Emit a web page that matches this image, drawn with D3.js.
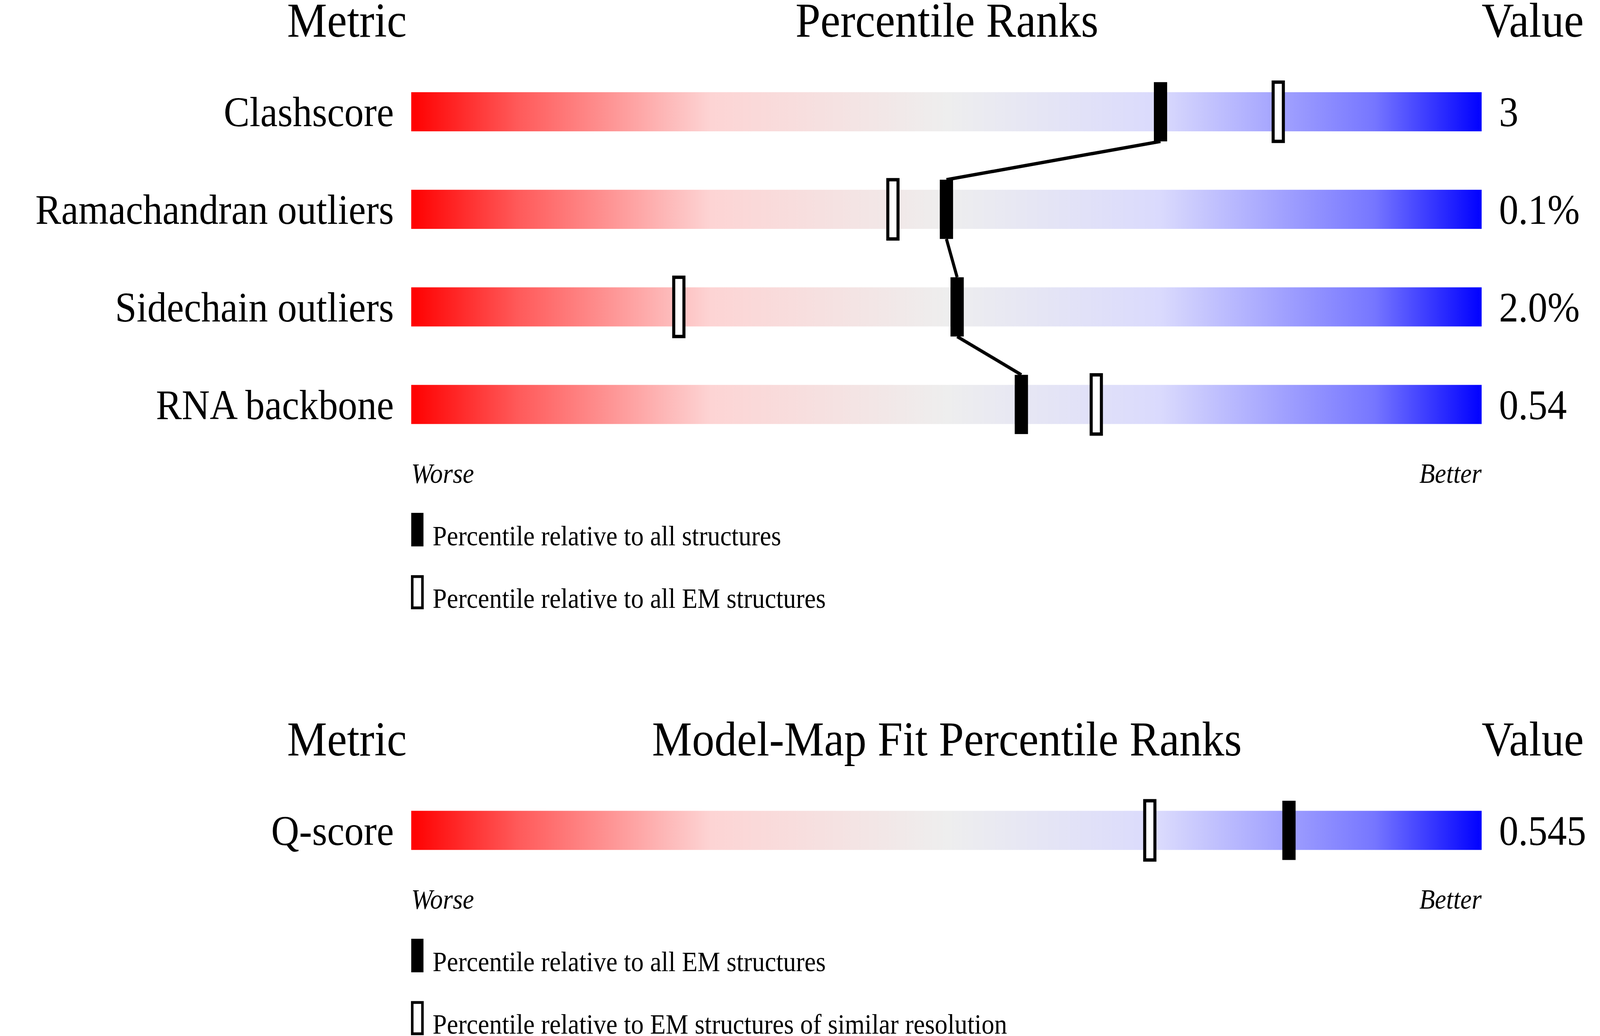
<!DOCTYPE html>
<html><head><meta charset="utf-8">
<script src="https://cdn.jsdelivr.net/npm/d3@7"></script>
<style>html,body{margin:0;padding:0;background:#fff;overflow:hidden;width:100%;height:100%}
svg{display:block;width:100vw;height:100vh}
text{font-family:"Liberation Serif","DejaVu Serif",serif}</style>
</head><body><div id="chart"></div>
<script>
// data
const metrics = ["Clashscore", "Ramachandran outliers", "Sidechain outliers", "RNA backbone"];
const metricValues = ["3", "0.1%", "2.0%", "0.54"];
const pctAll = [70, 50, 51, 57];
const pctEM = [81, 45, 25, 64];
const fitMetrics = ["Q-score"];
const fitValues = ["0.545"];
const fitPctAll = [82];
const fitPctRes = [69];

const W = 1568, H = 927;
const svg = d3.select("#chart").append("svg")
  .attr("viewBox", "0 0 " + W + " " + H)
  .attr("preserveAspectRatio", "none");

const grad = svg.append("defs").append("linearGradient").attr("id", "g");
[[0,"#ff0000"],[0.1,"#ff5a5a"],[0.28,"#fdd4d4"],[0.5,"#eeeeee"],[0.7,"#dadafd"],[0.9,"#7676ff"],[1,"#0000ff"]]
  .forEach(s => grad.append("stop").attr("offset", s[0]).attr("stop-color", s[1]));

const x = d3.scaleLinear().domain([0, 100]).range([403, 1452]);

function panel(title, titleY, names, vals, pA, pB, y0, legendTexts) {
  const y = d3.scalePoint().domain(names).range([y0, y0 + 87.3 * (names.length - 1)]);
  const g = svg.append("g");
  g.append("text").attr("x", 340).attr("y", titleY).attr("text-anchor", "middle").attr("font-size", 44).text("Metric");
  g.append("text").attr("x", 928).attr("y", titleY).attr("text-anchor", "middle").attr("font-size", 44).text(title);
  g.append("text").attr("x", 1452).attr("y", titleY).attr("font-size", 44).text("Value");
  const bh = 35, mh = 53;
  names.forEach((n, i) => {
    const cy = y(n);
    g.append("rect").attr("x", x(0)).attr("y", cy - bh / 2).attr("width", x(100) - x(0)).attr("height", bh).attr("fill", "url(#g)");
    g.append("text").attr("x", 386).attr("y", cy + 13).attr("text-anchor", "end").attr("font-size", 38).text(n);
    g.append("text").attr("x", 1469).attr("y", cy + 13).attr("font-size", 38).text(vals[i]);
  });
  // connecting line between filled markers
  for (let i = 0; i < names.length - 1; i++) {
    g.append("line")
      .attr("x1", x(pA[i])).attr("y1", y(names[i]) + mh / 2)
      .attr("x2", x(pA[i + 1])).attr("y2", y(names[i + 1]) - mh / 2)
      .attr("stroke", "#000").attr("stroke-width", 3);
  }
  names.forEach((n, i) => {
    const cy = y(n);
    g.append("rect").attr("x", x(pB[i]) - 5).attr("y", cy - mh / 2).attr("width", 10).attr("height", mh)
      .attr("fill", "#fff").attr("stroke", "#000").attr("stroke-width", 3);
    g.append("rect").attr("x", x(pA[i]) - 6.5).attr("y", cy - mh / 2).attr("width", 13).attr("height", mh).attr("fill", "#000");
  });
  const ly = y(names[names.length - 1]) + 70;
  g.append("text").attr("x", 403).attr("y", ly).attr("font-size", 25).attr("font-style", "italic").text("Worse");
  g.append("text").attr("x", 1452).attr("y", ly).attr("text-anchor", "end").attr("font-size", 25).attr("font-style", "italic").text("Better");
  legendTexts.forEach((t, i) => {
    const ty = ly + 56 * (i + 1);
    if (i === 0) g.append("rect").attr("x", 403).attr("y", ty - 29).attr("width", 12).attr("height", 30).attr("fill", "#000");
    else g.append("rect").attr("x", 404).attr("y", ty - 28).attr("width", 10).attr("height", 28).attr("fill", "#fff").attr("stroke", "#000").attr("stroke-width", 2.5);
    g.append("text").attr("x", 424).attr("y", ty).attr("font-size", 25).text(t);
  });
}

panel("Percentile Ranks", 33, metrics, metricValues, pctAll, pctEM, 100,
  ["Percentile relative to all structures", "Percentile relative to all EM structures"]);
panel("Model-Map Fit Percentile Ranks", 676, fitMetrics, fitValues, fitPctAll, fitPctRes, 743,
  ["Percentile relative to all EM structures", "Percentile relative to EM structures of similar resolution"]);
</script></body></html>
